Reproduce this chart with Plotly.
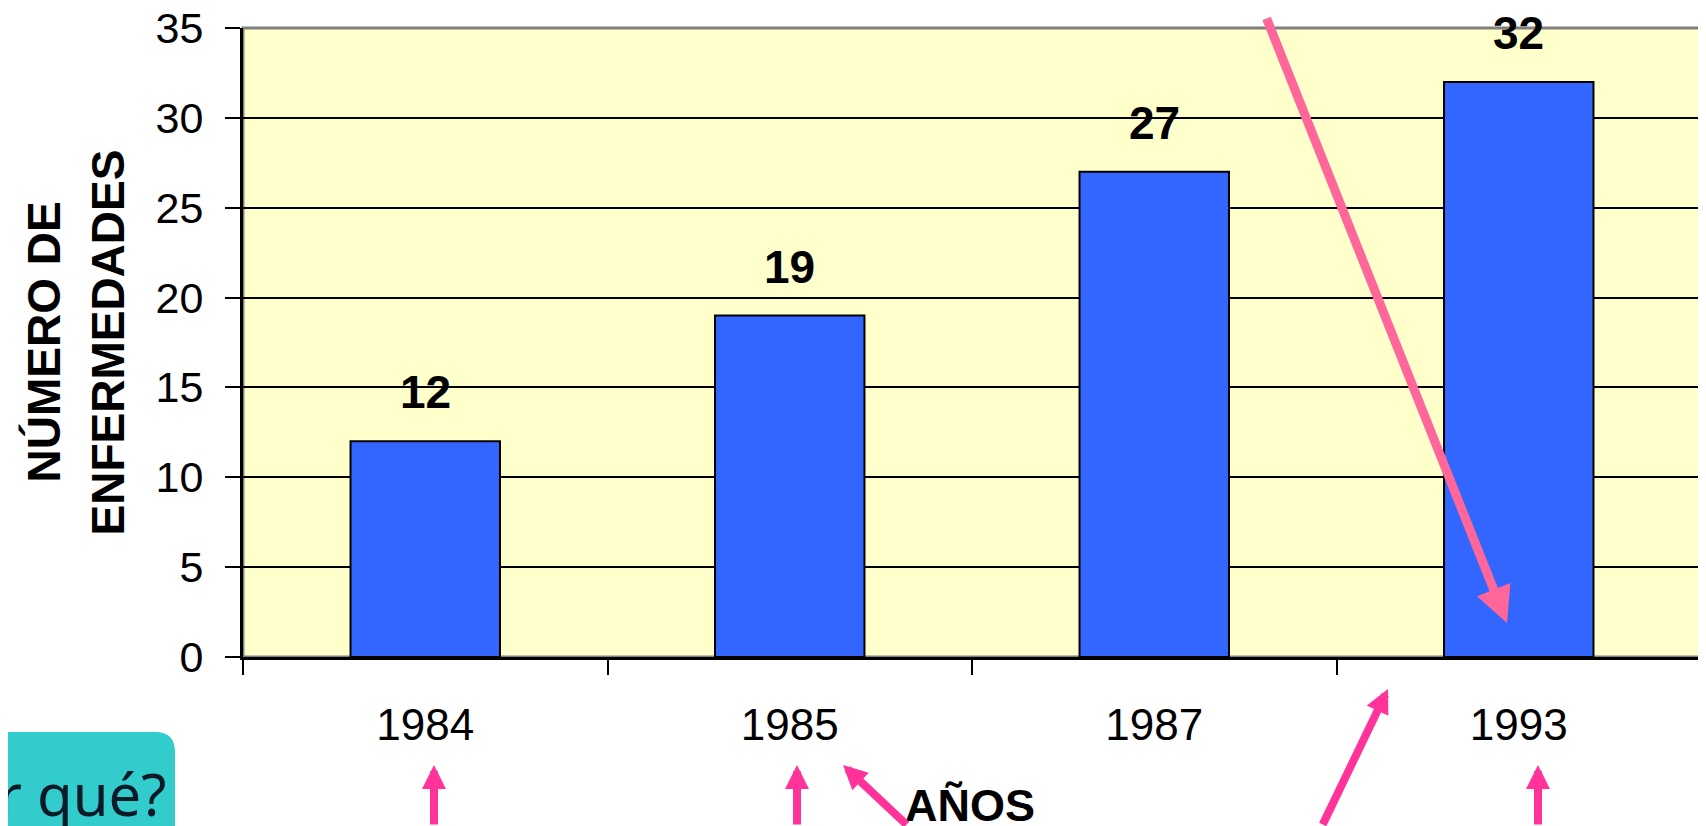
import plotly.graph_objects as go

# ---- data ----
years = ["1984", "1985", "1987", "1993"]
counts = [12, 19, 27, 32]
y_title_lines = ["NÚMERO DE", "ENFERMEDADES"]
x_title = "AÑOS"
box_text = "r qué?"

# the page body has an 8px margin; work in page pixels and convert
OFF = 8
W, H = 1706 - OFF, 826 - OFF
L, R, T, B = 243 - OFF, 5, 28 - OFF, 169
PW, PH = W - L - R, H - T - B

def px(x):
    return (x - OFF - L) / PW

def py(y):
    return (H - B - (y - OFF)) / PH

FONT = "Arial, Liberation Sans, sans-serif"

fig = go.Figure()
fig.add_trace(go.Bar(
    x=years, y=counts,
    marker=dict(color="#3366FF", line=dict(color="black", width=2)),
    hoverinfo="skip",
))

annotations = []
# value labels (x given as category index)
for i, c in enumerate(counts):
    annotations.append(dict(
        x=i, y=c, xref="x", yref="y", text=f"<b>{c}</b>", showarrow=False,
        yanchor="middle", yshift=49, font=dict(family=FONT, size=46, color="black")))

# y title (two lines, rotated)
annotations.append(dict(x=px(43), y=0.5, xref="paper", yref="paper", text=f"<b>{y_title_lines[0]}</b>",
                        textangle=-90, showarrow=False, xanchor="center", yanchor="middle",
                        font=dict(family=FONT, size=46, color="black")))
annotations.append(dict(x=px(107), y=0.5, xref="paper", yref="paper", text=f"<b>{y_title_lines[1]}</b>",
                        textangle=-90, showarrow=False, xanchor="center", yanchor="middle",
                        font=dict(family=FONT, size=46, color="black")))

# x title
annotations.append(dict(x=px(903), y=py(805), xref="paper", yref="paper", text=f"<b>{x_title}</b>",
                        showarrow=False, xanchor="left", yanchor="middle",
                        font=dict(family=FONT, size=45, color="black")))

# teal box text
annotations.append(dict(x=px(-3), y=py(794), xref="paper", yref="paper", text=box_text,
                        showarrow=False, xanchor="left", yanchor="middle", borderpad=0,
                        font=dict(family="Noto Sans, Open Sans, sans-serif", size=58, color="#0b1a28")))

# arrows: (tip_x, tip_y, tail_x, tail_y, color, width, size) in page pixels
arrows = [
    (1507, 623, 1266, 17, "#FF6699", 9, 0.8),
    (434, 765, 434, 850, "#FF3399", 8, 0.6),
    (797, 765, 797, 850, "#FF3399", 8, 0.6),
    (843, 765, 908, 840, "#FF3399", 8, 0.6),
    (1538, 765, 1538, 850, "#FF3399", 8, 0.6),
    (1388, 689, 1322, 850, "#FF3399", 8, 0.6),
]
for tx, ty, sx, sy, col, wd, sz in arrows:
    annotations.append(dict(x=px(tx), y=py(ty), xref="paper", yref="paper", ax=sx - tx, ay=sy - ty,
                            axref="pixel", ayref="pixel", showarrow=True, arrowhead=2,
                            arrowsize=sz, arrowwidth=wd, arrowcolor=col, text="", standoff=0))

shapes = [
    # gray frame on top/right
    dict(type="rect", xref="paper", yref="paper", x0=0, x1=1, y0=0, y1=1,
         line=dict(color="#808080", width=3), layer="below"),
    # teal rounded box
    dict(type="path", xref="paper", yref="paper",
         path=(f"M{px(-20)},{py(860)} L{px(-20)},{py(732)} L{px(155)},{py(732)} "
               f"Q{px(175)},{py(732)} {px(175)},{py(752)} L{px(175)},{py(860)} Z"),
         fillcolor="#33CCCC", line=dict(width=0), layer="below"),
]

fig.update_layout(
    width=W, height=H,
    margin=dict(l=L, r=R, t=T, b=B, pad=0),
    paper_bgcolor="white", plot_bgcolor="#FFFFCC",
    bargap=0.59, showlegend=False,
    annotations=annotations, shapes=shapes,
    font=dict(family=FONT, color="black"),
)
fig.update_xaxes(
    type="category", range=[-0.5, 3.5], autorange=False, automargin=False,
    tickson="boundaries", ticks="outside", ticklen=15, tickwidth=2, tickcolor="black",
    showline=True, linecolor="black", linewidth=3, showgrid=False, tickangle=0,
    tickfont=dict(family=FONT, size=44, color="black"), ticklabelstandoff=27,
    ticklabeloverflow="allow",
)
fig.update_yaxes(
    range=[0, 35], autorange=False, automargin=False, dtick=5,
    ticks="outside", ticklen=15, tickwidth=2, tickcolor="black",
    showline=True, linecolor="black", linewidth=3,
    showgrid=True, gridcolor="black", gridwidth=2, zeroline=False,
    tickfont=dict(family=FONT, size=43, color="black"), ticklabelstandoff=13,
    ticklabeloverflow="allow",
)

fig.write_html("out.html")
